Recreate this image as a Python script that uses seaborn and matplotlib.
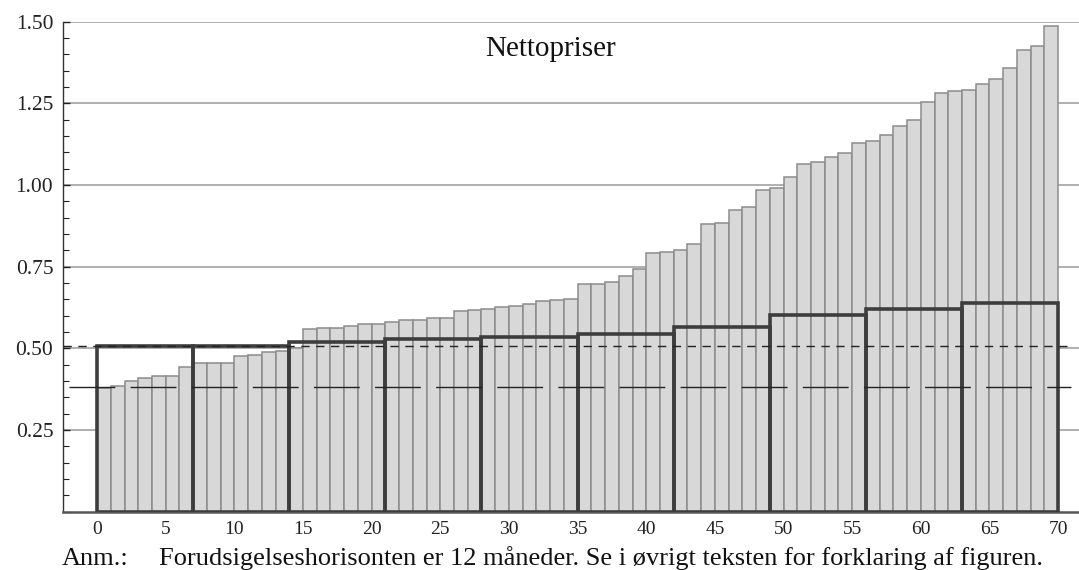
import numpy as np
import pandas as pd
import seaborn as sns
import matplotlib
matplotlib.use("Agg")
import matplotlib.pyplot as plt
from matplotlib.ticker import MultipleLocator

# sorted net prices, one bar per unit on the x axis (0..70)
bar_values = [0.380, 0.385, 0.400, 0.410, 0.414, 0.415, 0.443, 0.454, 0.455, 0.455,
              0.475, 0.479, 0.488, 0.491, 0.500, 0.559, 0.562, 0.562, 0.569, 0.574,
              0.575, 0.582, 0.586, 0.588, 0.592, 0.594, 0.614, 0.617, 0.619, 0.625,
              0.629, 0.637, 0.644, 0.647, 0.650, 0.697, 0.697, 0.704, 0.721, 0.742,
              0.793, 0.795, 0.800, 0.820, 0.880, 0.884, 0.924, 0.932, 0.984, 0.990,
              1.024, 1.063, 1.071, 1.086, 1.099, 1.127, 1.135, 1.152, 1.181, 1.200,
              1.253, 1.283, 1.288, 1.290, 1.309, 1.325, 1.359, 1.412, 1.424, 1.488]

# forecast boxes, each 7 units wide
box_values = [0.507, 0.508, 0.518, 0.528, 0.534, 0.543, 0.566, 0.602, 0.620, 0.640]
box_width = 7

short_dash_level = 0.506
long_dash_level = 0.381

title = "Nettopriser"
note_label = "Anm.:"
note_text = "Forudsigelseshorisonten er 12 måneder. Se i øvrigt teksten for forklaring af figuren."
ytick_values = [0.25, 0.50, 0.75, 1.00, 1.25, 1.50]
xtick_values = list(range(0, 71, 5))


def main():
    sns.set_theme(style="ticks")
    plt.rcParams['font.family'] = ['Liberation Serif', 'DejaVu Serif']

    fig = plt.figure(figsize=(10.79, 5.70), dpi=100)
    ax = fig.add_axes([0.0584, 0.1024, 0.9416, 0.8596])

    n = len(bar_values)
    bars = pd.DataFrame({"pos": np.arange(n) + 0.5, "price": bar_values})
    sns.barplot(data=bars, x="pos", y="price", native_scale=True, width=1,
                color="#d8d8d8", saturation=1, edgecolor="#8c8c8c", linewidth=1.1,
                errorbar=None, ax=ax, zorder=2)

    boxes = pd.DataFrame({"pos": np.arange(0, n, box_width) + box_width / 2,
                          "price": box_values})
    sns.barplot(data=boxes, x="pos", y="price", native_scale=True, width=1,
                fill=False, color="#3d3d3d", saturation=1, linewidth=2.6,
                errorbar=None, ax=ax, zorder=4)

    ax.axhline(short_dash_level, xmin=0, xmax=0.994, color="#222222",
               linewidth=1.0, dashes=(6, 4.7), zorder=5)
    ax.axhline(long_dash_level, xmin=0.006, xmax=0.992, color="#222222",
               linewidth=1.0, dashes=(33, 11), zorder=5)

    ax.set_xlim(-2.48, 71.52)
    ax.set_ylim(0, 1.5)
    ax.set_xticks(xtick_values)
    ax.set_xticklabels([str(v) for v in xtick_values])
    ax.set_yticks(ytick_values)
    ax.set_yticklabels(["%.2f" % v for v in ytick_values])
    ax.xaxis.set_minor_locator(MultipleLocator(2.5))
    ax.yaxis.set_minor_locator(MultipleLocator(0.05))
    ax.set_xlabel("")
    ax.set_ylabel("")

    ax.yaxis.grid(True, which="major", color="#9a9a9a", linewidth=1.1)
    ax.set_axisbelow(True)

    ax.tick_params(axis="both", which="both", direction="in", colors="#222222")
    ax.tick_params(axis="y", which="major", length=5, width=1, pad=7, labelsize=15.5)
    ax.tick_params(axis="y", which="minor", length=4, width=0.8)
    ax.tick_params(axis="x", which="major", length=6, width=1.2, pad=7, labelsize=14)
    ax.tick_params(axis="x", which="minor", length=3, width=1)

    sns.despine(ax=ax, top=True, right=True)
    ax.spines['left'].set_color("#333333")
    ax.spines['left'].set_linewidth(1.0)
    ax.spines['bottom'].set_color("#555555")
    ax.spines['bottom'].set_linewidth(1.8)

    ax.text(33.0, 1.395, title, ha="center", va="baseline", fontsize=21, color="#111111")

    fig.text(0.0575, 0.0095, note_label, ha="left", va="baseline", fontsize=19, color="#111111")
    fig.text(0.1475, 0.0095, note_text, ha="left", va="baseline", fontsize=19, color="#111111")

    fig.savefig("out.png", dpi=100)


if __name__ == "__main__":
    main()
